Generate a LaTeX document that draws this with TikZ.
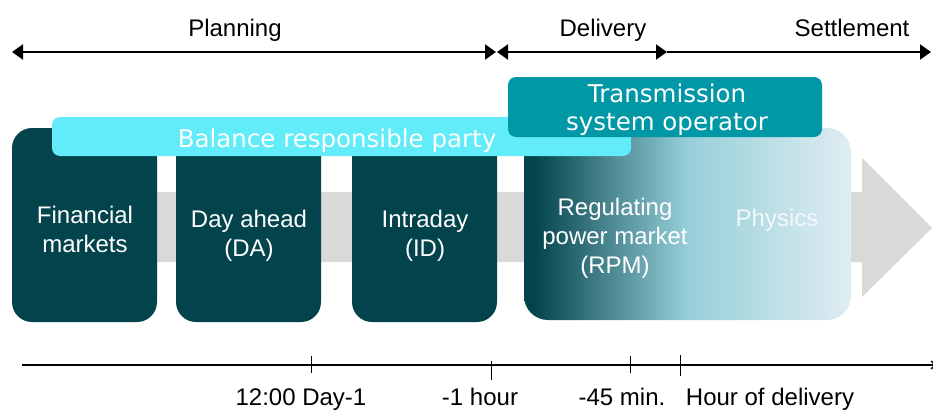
\documentclass[tikz,border=0pt]{standalone}
\usepackage{fontspec}
\setmainfont{Liberation Sans}
\newfontfamily\widesans{DejaVu Sans}
\usetikzlibrary{arrows.meta}

\definecolor{darkteal}{HTML}{03434B}
\definecolor{brpcyan}{HTML}{62EBF8}
\definecolor{tsoteal}{HTML}{0097A7}
\definecolor{bandgray}{HTML}{D9D9D9}
\definecolor{rpmMid}{HTML}{96CFD9}
\definecolor{rpmLight}{HTML}{DFEDF2}
\definecolor{physicstext}{HTML}{F2F9FB}

% left-to-right fade of the regulating power / physics block
\pgfdeclarehorizontalshading{rpmfade}{100bp}{%
  color(0bp)=(darkteal); color(26.5bp)=(darkteal);
  color(50bp)=(rpmMid); color(75bp)=(rpmLight); color(100bp)=(rpmLight)}

\begin{document}
\begin{tikzpicture}[x=1pt,y=-1pt,
  stage/.style={fill=darkteal, rounded corners=20pt},
  boxtext/.style={text=white, font=\fontsize{24}{29}\selectfont, align=center, inner sep=0pt},
  phase/.style={font=\fontsize{24}{29}\selectfont, inner sep=0pt, anchor=base},
  roletext/.style={text=white, font=\widesans\fontsize{24.5}{28}\selectfont, align=center, inner sep=0pt},
  timelabel/.style={font=\fontsize{24}{29}\selectfont, inner sep=0pt, anchor=base},
  spanhead/.tip={Triangle[length=11pt,width=15pt]},
  span/.style={line width=2pt},
  tick/.style={line width=1pt}]

\useasboundingbox (0,0) rectangle (933,412);

% grey process arrow in the background
\fill[bandgray] (100,192) -- (862,192) -- (862,158) -- (932,228)
  -- (862,297) -- (862,262) -- (100,262) -- cycle;

% market stages
\fill[stage] (12,128) rectangle (157,322);
\fill[stage] (176,128) rectangle (321,322);
\fill[stage] (352,128) rectangle (497,322);
\shade[shading=rpmfade, rounded corners=24pt] (524,128) rectangle (851,320);

% role bars
\fill[brpcyan, rounded corners=8pt] (52,117) rectangle (631,156);
\fill[tsoteal, rounded corners=8pt] (508,77) rectangle (822,137);

\node[roletext, anchor=base] (brp) at (337,147) {Balance responsible party};
\node[roletext] (tso) at (667,110) {Transmission\\system operator};

\node[boxtext] (fin) at (85,229) {Financial\\markets};
\node[boxtext] (da) at (249,236) {Day ahead\\(DA)};
\node[boxtext] (id) at (425,236) {Intraday\\(ID)};
\node[boxtext] (rpm) at (615,238) {Regulating\\power market\\(RPM)};
\node[boxtext, text=physicstext] (phys) at (777,220) {Physics};

% phases along the top
\coordinate (p0) at (12,52);
\coordinate (p1) at (496,52);
\coordinate (d0) at (497,52);
\coordinate (d1) at (667,52);
\coordinate (s1) at (931,52);
\draw[span, spanhead-spanhead] (p0) -- (p1);
\draw[span, spanhead-spanhead] (d0) -- (d1);
\draw[span, -spanhead] (d1) -- (s1);

\node[phase] (planning) at (235,37) {Planning};
\node[phase] (delivery) at (603,37) {Delivery};
\node[phase] (settlement) at (852,37) {Settlement};

% time axis
\coordinate (t0) at (22,365);
\coordinate (t1) at (936,365);
\draw[line width=1.3pt, -{Straight Barb[length=4pt,width=8pt]}] (t0) -- (t1);
\draw[tick] (311,356) -- (311,373);
\draw[tick] (491,361) -- (491,380);
\draw[tick] (630,356) -- (630,373);
\draw[tick] (680,355) -- (680,376);

\node[timelabel] (noon) at (301,405) {12:00 Day-1};
\node[timelabel] (hour) at (480,405) {-1 hour};
\node[timelabel] (min) at (622,405) {-45 min.};
\node[timelabel] (deliv) at (770,405) {Hour of delivery};
\end{tikzpicture}
\end{document}
